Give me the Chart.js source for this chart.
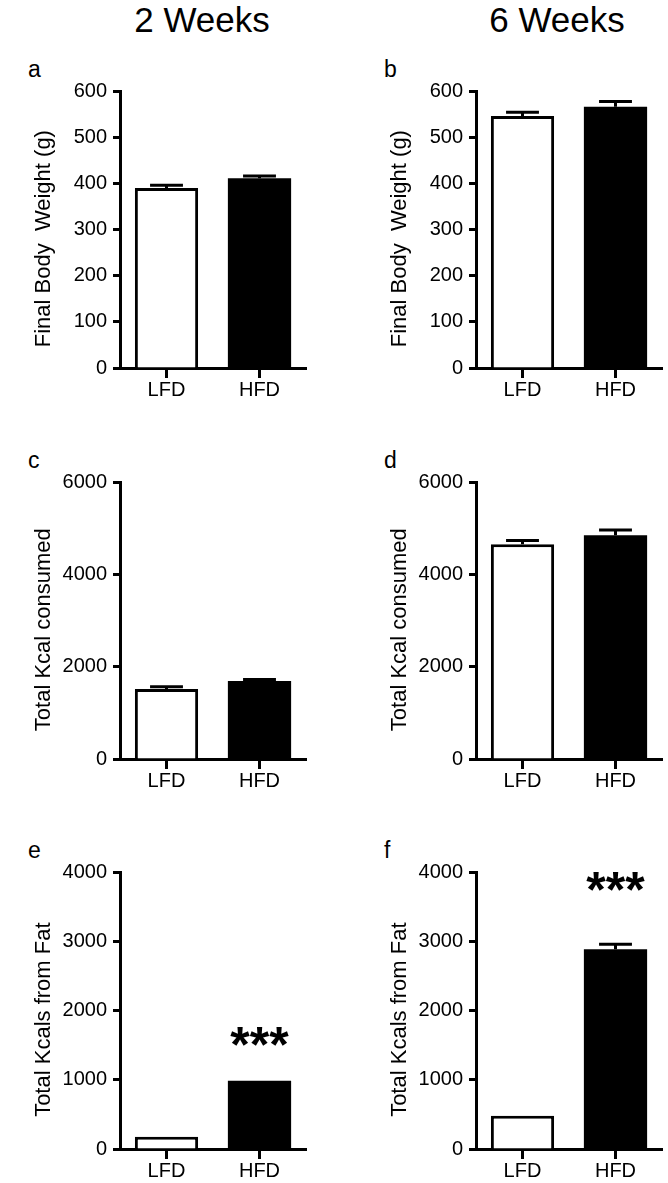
<!DOCTYPE html>
<html>
<head>
<meta charset="utf-8">
<script src="https://cdn.jsdelivr.net/npm/chart.js@4.4.0/dist/chart.umd.min.js"></script>
<style>
  body { margin: 0; background: #fff; overflow: hidden; }
  #page { position: relative; width: 668px; height: 1183px; font-family: "Liberation Sans", Arial, sans-serif; color: #000; }
  canvas { position: absolute; }
  .head { position: absolute; width: 200px; text-align: center; font-size: 35px; line-height: 35px; }
  .tag { position: absolute; font-size: 23px; line-height: 23px; }
</style>
</head>
<body>
<div id="page">
  <div class="head" style="left:102px; top:2px;">2 Weeks</div>
  <div class="head" style="left:457px; top:2px;">6 Weeks</div>
</div>
<script>
// groups on the x axis
const groups = ["LFD", "HFD"];
const barFill = ["#ffffff", "#000000"];
const barBorder = [3, 0];

// final body weight (g), mean and SEM
const weight2wk = [390, 411];
const weight2wkErr = [6, 5];
const weight6wk = [546, 566];
const weight6wkErr = [8, 11];

// total kcal consumed
const kcal2wk = [1515, 1688];
const kcal2wkErr = [50, 36];
const kcal6wk = [4652, 4847];
const kcal6wkErr = [80, 114];

// total kcal from fat (errors too small to see)
const fat2wk = [178, 985];
const fat2wkErr = [0, 0];
const fat6wk = [480, 2885];
const fat6wkErr = [0, 72];

// where the *** marks sit (y value of text baseline)
const fat2wkStars = [null, 1250];
const fat6wkStars = [null, 3500];

// y tick labels
const weightTicks = [0, 100, 200, 300, 400, 500, 600];
const kcalTicks = [0, 2000, 4000, 6000];
const fatTicks = [0, 1000, 2000, 3000, 4000];

// layout of the grid of panels
const colAxis = [120, 476];
const rowTop = [91, 482, 872];
const rowBottom = [368, 759, 1149];
const yW = 120, padTop = 30, xH = 34, padRight = 5, plotW = 186;

Chart.defaults.font.family = '"Liberation Sans", Arial, sans-serif';
Chart.defaults.color = "#000";

// error bars (upper only) and significance stars
const errorBars = {
  id: "errorBars",
  afterDatasetsDraw(chart) {
    const ctx = chart.ctx;
    const y = chart.scales.y;
    const ds = chart.data.datasets[0];
    const meta = chart.getDatasetMeta(0);
    ctx.save();
    ctx.strokeStyle = "#000";
    ctx.lineWidth = 3;
    meta.data.forEach((bar, i) => {
      if (ds.err[i] > 0) {
        const top = y.getPixelForValue(ds.data[i] + ds.err[i]);
        const half = bar.width * 0.26;
        ctx.beginPath();
        ctx.moveTo(bar.x, bar.y);
        ctx.lineTo(bar.x, top);
        ctx.moveTo(bar.x - half, top);
        ctx.lineTo(bar.x + half, top);
        ctx.stroke();
      }
      if (ds.stars && ds.stars[i] != null) {
        ctx.fillStyle = "#000";
        ctx.font = 'bold 50px "Liberation Sans", Arial, sans-serif';
        ctx.textAlign = "center";
        ctx.textBaseline = "alphabetic";
        ctx.fillText("***", bar.x, y.getPixelForValue(ds.stars[i]));
      }
    });
    ctx.restore();
  }
};

function makePanel(letter, col, row, values, errs, ticks, yTitle, stars) {
  const page = document.getElementById("page");
  const axisX = colAxis[col];
  const top = rowTop[row], bottom = rowBottom[row];

  const tag = document.createElement("div");
  tag.className = "tag";
  tag.textContent = letter;
  tag.style.left = (axisX - 92) + "px";
  tag.style.top = (top - 33) + "px";
  page.appendChild(tag);

  const cv = document.createElement("canvas");
  cv.width = yW + plotW + padRight;
  cv.height = padTop + (bottom - top) + xH;
  cv.style.left = (axisX - yW) + "px";
  cv.style.top = (top - padTop) + "px";
  page.appendChild(cv);

  new Chart(cv, {
    type: "bar",
    data: {
      labels: groups,
      datasets: [{
        data: values,
        err: errs,
        stars: stars,
        backgroundColor: barFill,
        borderColor: "#000",
        borderWidth: barBorder,
        barPercentage: 0.68,
        categoryPercentage: 1
      }]
    },
    options: {
      responsive: false,
      animation: false,
      layout: { padding: { top: padTop, right: padRight, left: 0, bottom: 0 } },
      plugins: { legend: { display: false }, tooltip: { enabled: false } },
      scales: {
        x: {
          afterFit: s => { s.height = xH; },
          grid: { offset: false, drawOnChartArea: false, tickLength: 10, tickWidth: 3, tickColor: "#000", color: "#000" },
          border: { display: true, color: "#000", width: 3 },
          ticks: { font: { size: 20 }, color: "#000", padding: 0 }
        },
        y: {
          min: ticks[0],
          max: ticks[ticks.length - 1],
          afterBuildTicks: s => { s.ticks = ticks.map(v => ({ value: v })); },
          afterFit: s => { s.width = yW; },
          grid: { drawOnChartArea: false, tickLength: 7, tickWidth: 3, tickColor: "#000", color: "#000" },
          border: { display: true, color: "#000", width: 3 },
          ticks: { font: { size: 20 }, color: "#000", padding: 6, callback: v => String(v) },
          title: { display: true, text: yTitle, font: { size: 22 }, color: "#000", padding: { top: 31, bottom: 0 } }
        }
      }
    },
    plugins: [errorBars]
  });
}

makePanel("a", 0, 0, weight2wk, weight2wkErr, weightTicks, "Final Body  Weight (g)   ", null);
makePanel("b", 1, 0, weight6wk, weight6wkErr, weightTicks, "Final Body  Weight (g)   ", null);
makePanel("c", 0, 1, kcal2wk, kcal2wkErr, kcalTicks, "Total Kcal consumed   ", null);
makePanel("d", 1, 1, kcal6wk, kcal6wkErr, kcalTicks, "Total Kcal consumed   ", null);
makePanel("e", 0, 2, fat2wk, fat2wkErr, fatTicks, "Total Kcals from Fat   ", fat2wkStars);
makePanel("f", 1, 2, fat6wk, fat6wkErr, fatTicks, "Total Kcals from Fat   ", fat6wkStars);
</script>
</body>
</html>
